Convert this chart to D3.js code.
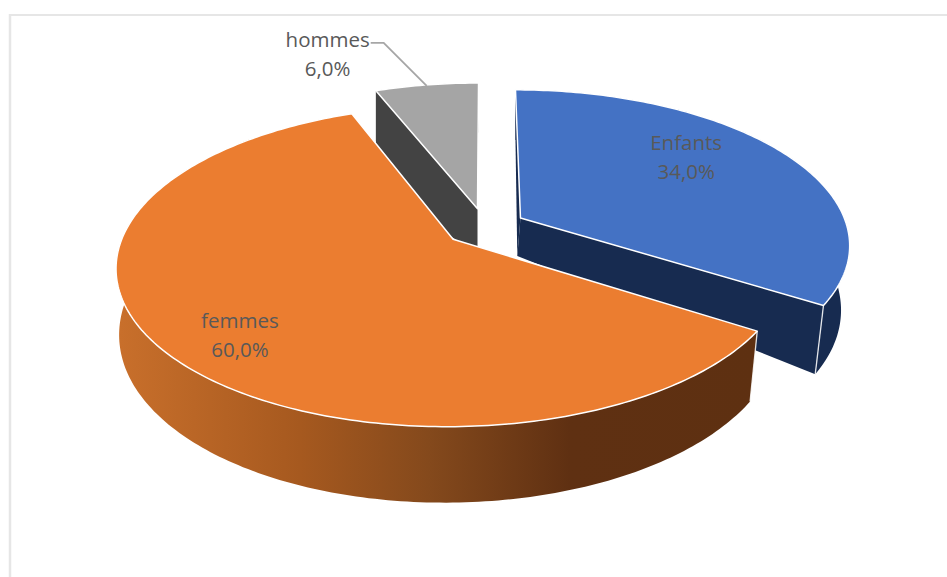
<!DOCTYPE html>
<html><head><meta charset="utf-8">
<script src="https://cdn.jsdelivr.net/npm/d3@7/dist/d3.min.js"></script>
<style>html,body{margin:0;padding:0;background:#fff}svg{display:block}</style>
</head><body><svg id="c" width="947" height="577"></svg>
<script>
const categories = ["Enfants", "femmes", "hommes"];
const values = [34, 60, 6];
const valueLabels = ["34,0%", "60,0%", "6,0%"];
const topColors = ["#4472c4", "#eb7d30", "#a5a5a5"];
const wallColors = ["#172b50", "url(#wallOrange)", "#434343"];

const W = 947, H = 577;
const cx = 485, cy = 227, R = 327, K = 152, persp = 0.165, explode = 0.125;
const bottomScale = 0.984, vanishX = 309, tipDepth = 38;
const outerDepth = v => 63 - 12 * v;

const svg = d3.select("#c");
const defs = svg.append("defs");
const wallStops = [[120,"#c86f2b"],[300,"#a6591f"],[430,"#84491c"],[570,"#5f3012"],[760,"#5e3011"]];
const grad = defs.append("linearGradient").attr("id","wallOrange")
  .attr("gradientUnits","userSpaceOnUse").attr("x1",120).attr("x2",760).attr("y1",0).attr("y2",0);
wallStops.forEach(s => grad.append("stop").attr("offset",(s[0]-120)/640).attr("stop-color",s[1]));

// frame
svg.append("line").attr("x1",9).attr("x2",W).attr("y1",15).attr("y2",15).attr("stroke","#e6e6e6").attr("stroke-width",2);
svg.append("line").attr("x1",10).attr("x2",10).attr("y1",14).attr("y2",H).attr("stroke","#e6e6e6").attr("stroke-width",2.5);

const pie = d3.pie().sort(null).value(d => d)(values);
const slices = pie.map((p,i) => ({...p, i, mid:(p.startAngle+p.endAngle)/2}));

function uv(s, a, r){
  return [r*Math.sin(a)+explode*Math.sin(s.mid), r*Math.cos(a)+explode*Math.cos(s.mid)];
}
function topPt(s,a,r){
  const [u,v] = uv(s,a,r), d = 1+persp*v;
  return [cx+R*u/d, cy-K*v/d, v];
}
function botPt(s,a,r,extra){
  const [x,y,v] = topPt(s,a,r);
  const h = (r===0 ? tipDepth : outerDepth(v)) + (extra||0);
  const shift = (x-vanishX)*(1-bottomScale)*Math.max(0,Math.min(1,1-v));
  return [extra ? x : x-shift, y+h];
}
const line = d3.line();
function arcAngles(s){
  const n = Math.max(8, Math.round((s.endAngle-s.startAngle)*60));
  return d3.range(n+1).map(k => s.startAngle+(s.endAngle-s.startAngle)*k/n);
}
function topPath(s){
  return line([topPt(s,0,0), ...arcAngles(s).map(a=>topPt(s,a,1))])+"Z";
}
function outerWall(s){
  const as = arcAngles(s);
  return line([...as.map(a=>topPt(s,a,1)), ...as.slice().reverse().map(a=>botPt(s,a,1))])+"Z";
}
function radialWall(s,a,extra){
  return line([topPt(s,0,0), topPt(s,a,1), botPt(s,a,1,extra), botPt(s,0,0,extra?6:0)])+"Z";
}

const order = [2,0,1]; // hommes, Enfants, femmes: back to front
const g = svg.append("g");
order.forEach(i => {
  const s = slices[i];
  const gs = g.append("g");
  gs.append("path").attr("d",outerWall(s)).attr("fill",wallColors[i]);
  if(i===2) gs.append("path").attr("d",radialWall(s,s.startAngle,50)).attr("fill",wallColors[i]);
  if(i===0){
    gs.append("path").attr("d",radialWall(s,s.startAngle)).attr("fill",wallColors[i]);
    gs.append("path").attr("d",radialWall(s,s.endAngle)).attr("fill",wallColors[i]);
  }
  if(i===0||i===1){
    const a = i===0 ? s.endAngle : s.startAngle;
    gs.append("path").attr("d",line([topPt(s,a,1),botPt(s,a,1)]))
      .attr("stroke","#fff").attr("stroke-width",1.3).attr("fill","none").attr("opacity",.85);
  }
  gs.append("path").attr("d",topPath(s)).attr("fill",topColors[i])
    .attr("stroke","#fff").attr("stroke-width",1.5).attr("stroke-linejoin","round");
});

// leader line for hommes
const gray = slices[2];
const lp = topPt(gray,gray.mid,1);
const leadY = lp[1]-42, leadX = lp[0]-43;
svg.append("path").attr("d",line([[leadX-13,leadY],[leadX,leadY],[lp[0],lp[1]+1]]))
  .attr("fill","none").attr("stroke","#a6a6a6").attr("stroke-width",1.8);

// labels: angle from slice mid, radius fraction
const labelLayout = [
  {da:-0.165, r:0.713, dx:-1, dy:0},
  {da:-0.079, r:0.79, dx:-3, dy:1},
  {da:0, r:1, dx:-99, dy:-31}
];
slices.forEach((s,i) => {
  const l = labelLayout[i];
  const p = topPt(s,s.mid+l.da,l.r);
  const x = p[0]+(l.dx||0), y = p[1]+l.dy;
  const t = svg.append("text").attr("text-anchor","middle")
    .attr("font-family","'Open Sans',sans-serif").attr("font-size",20.5).attr("fill","#595959");
  t.append("tspan").attr("x",x).attr("y",y-7).text(categories[i]);
  t.append("tspan").attr("x",x).attr("y",y+22).text(valueLabels[i]);
});
</script></body></html>
